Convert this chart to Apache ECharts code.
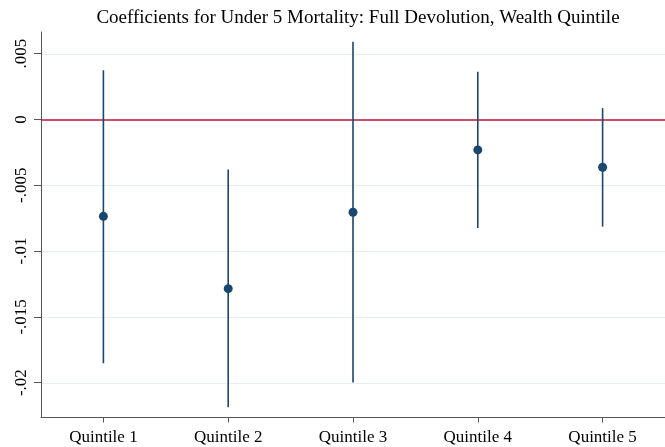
<!DOCTYPE html>
<html>
<head>
<meta charset="utf-8">
<script src="https://cdn.jsdelivr.net/npm/echarts@6/dist/echarts.min.js"></script>
<style>
html,body{margin:0;padding:0;background:#fff;}
#chart{width:665px;height:447px;}
</style>
</head>
<body>
<div id="chart"></div>
<script>
const titleText = 'Coefficients for Under 5 Mortality: Full Devolution, Wealth Quintile';
const categories = ['Quintile 1', 'Quintile 2', 'Quintile 3', 'Quintile 4', 'Quintile 5'];
const coef = [-0.00736, -0.01286, -0.00705, -0.00231, -0.00363];
const lower = [-0.01852, -0.02187, -0.01999, -0.00825, -0.00814];
const upper = [0.00375, -0.0038, 0.0059, 0.00362, 0.00086];
const yTicks = [-0.02, -0.015, -0.01, -0.005, 0, 0.005];
const yTickLabels = ['-.02', '-.015', '-.01', '-.005', '0', '.005'];

const navy = '#1a476f';
const axisColor = '#555555';
const gridColor = '#e6eef0';
const font = '"Liberation Serif", "Times New Roman", serif';

const chart = echarts.init(document.getElementById('chart'));
chart.setOption({
  backgroundColor: '#ffffff',
  animation: false,
  title: {
    text: titleText,
    left: 353, textAlign: 'center',
    top: 4,
    textStyle: { fontFamily: font, fontSize: 19, fontWeight: 'normal', color: '#000' }
  },
  grid: { left: 41, right: 0, top: 32, bottom: 29.5 },
  xAxis: {
    type: 'category',
    data: categories,
    boundaryGap: true,
    axisLine: { show: true, onZero: false, lineStyle: { color: axisColor, width: 1 } },
    axisTick: { show: true, alignWithLabel: true, length: 5, lineStyle: { color: axisColor } },
    axisLabel: { fontFamily: font, fontSize: 17, color: '#000', margin: 12 },
    splitLine: { show: false }
  },
  yAxis: {
    type: 'value',
    min: -0.02265,
    max: 0.00665,
    axisLine: { show: true, onZero: false, lineStyle: { color: axisColor, width: 1 } },
    axisTick: { show: true, length: 7, customValues: yTicks, lineStyle: { color: axisColor } },
    axisLabel: {
      fontFamily: font, fontSize: 17, color: '#000', rotate: 90, margin: 11,
      customValues: yTicks,
      formatter: function (v) {
        for (let i = 0; i < yTicks.length; i++) {
          if (Math.abs(v - yTicks[i]) < 1e-9) return yTickLabels[i];
        }
        return '';
      }
    },
    splitLine: { show: false }
  },
  series: [
    {
      type: 'custom',
      silent: true,
      z: 1,
      renderItem: function (params, api) {
        const cs = params.coordSys;
        const y = Math.round(api.coord([0, api.value(1)])[1]) + 0.5;
        return {
          type: 'line',
          shape: { x1: cs.x + 1, y1: y, x2: cs.x + cs.width, y2: y },
          style: { stroke: gridColor, lineWidth: 1 }
        };
      },
      encode: { x: 0, y: 1 },
      data: yTicks.filter(v => v !== 0).map(v => [0, v])
    },
    {
      type: 'line',
      data: [],
      silent: true,
      z: 2,
      markLine: {
        silent: true,
        symbol: ['none', 'none'],
        label: { show: false },
        lineStyle: { type: 'solid', color: '#c0103a', width: 1.5, opacity: 1 },
        data: [{ yAxis: 0 }]
      }
    },
    {
      type: 'custom',
      z: 5,
      renderItem: function (params, api) {
        const x = api.value(0);
        const lo = api.coord([x, api.value(1)]);
        const hi = api.coord([x, api.value(2)]);
        return {
          type: 'line',
          shape: { x1: lo[0], y1: lo[1], x2: hi[0], y2: hi[1] },
          style: { stroke: navy, lineWidth: 1.6 }
        };
      },
      encode: { x: 0, y: [1, 2] },
      data: categories.map((c, i) => [i, lower[i], upper[i]])
    },
    {
      type: 'scatter',
      z: 6,
      symbol: 'circle',
      symbolSize: 9,
      itemStyle: { color: navy, opacity: 1 },
      data: coef
    }
  ]
});
</script>
</body>
</html>
